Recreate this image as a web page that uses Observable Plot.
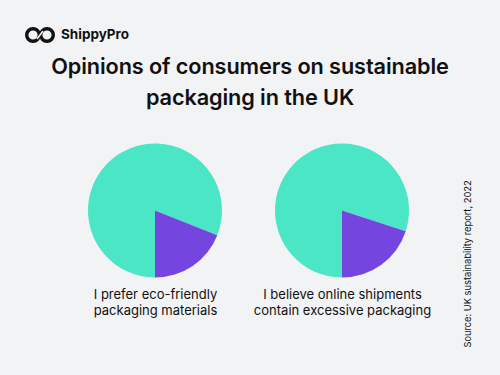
<!DOCTYPE html>
<html><head><meta charset="utf-8">
<script src="https://cdn.jsdelivr.net/npm/d3@7"></script>
<script src="https://cdn.jsdelivr.net/npm/@observablehq/plot@0.6"></script>
<style>
html,body{margin:0;padding:0;background:#F2F3F5;width:500px;height:375px;overflow:hidden;font-family:Inter,"Noto Sans",sans-serif;color:#111;}
#logo{position:absolute;left:24px;top:25px;}
#brand{position:absolute;left:61px;top:26px;font-size:13.5px;font-weight:700;}
#title{position:absolute;left:0;top:51px;width:500px;text-align:center;font-size:21.7px;font-weight:600;line-height:31px;letter-spacing:-0.1px;}
#chart{position:absolute;left:0;top:130px;}
#source{position:absolute;left:467px;top:264px;transform:translate(-50%,-50%) rotate(-90deg);white-space:nowrap;font-size:9.3px;color:#111;}
</style></head>
<body>
<svg id="logo" width="32" height="20" viewBox="0 0 32 20">
  <circle cx="9" cy="10" r="6.3" fill="none" stroke="#111" stroke-width="3.4"/>
  <circle cx="23" cy="10" r="6.3" fill="none" stroke="#111" stroke-width="3.4"/>
  <line x1="13" y1="14" x2="19" y2="6" stroke="#F2F3F5" stroke-width="1.6"/>
</svg>
<div id="brand">ShippyPro</div>
<div id="title">Opinions of consumers on sustainable<br>packaging in the UK</div>
<div id="chart"></div>
<div id="source">Source: UK sustainability report, 2022</div>
<script>
const questions = ["I prefer eco-friendly\npackaging materials", "I believe online shipments\ncontain excessive packaging"];
const agreeShare = [81, 80];
const otherShare = [19, 20];
const sliceNames = ["Agree", "Other"];
const sliceColors = ["#4BE6C6", "#7446DF"];

const rows = [];
questions.forEach((q, i) => {
  rows.push({question: q, slice: sliceNames[0], value: agreeShare[i]});
  rows.push({question: q, slice: sliceNames[1], value: otherShare[i]});
});

const radius = 67;
const pieY = 80.5;

function pies(index, scales, values, dimensions) {
  const g = d3.create("svg:g");
  for (const q of questions) {
    const data = rows.filter(d => d.question === q);
    const arcs = d3.pie().sort(null).value(d => d.value).startAngle(Math.PI).endAngle(3 * Math.PI)(data);
    const arc = d3.arc().innerRadius(0).outerRadius(radius);
    g.append("g")
      .attr("transform", `translate(${scales.x(q)},${pieY})`)
      .selectAll("path").data(arcs).join("path")
      .attr("d", arc)
      .attr("fill", d => scales.color(d.data.slice));
  }
  return g.node();
}

const chart = Plot.plot({
  width: 500,
  height: 200,
  margin: 0,
  style: {background: "transparent", fontFamily: "Inter, 'Noto Sans', sans-serif"},
  x: {type: "point", domain: questions, range: [154.5, 341.7], padding: 0, axis: null},
  y: {domain: [0, 200], range: [0, 200], axis: null},
  color: {domain: sliceNames, range: sliceColors},
  marks: [
    pies,
    Plot.text(questions, {x: d => d, y: () => 157, text: d => d, fontSize: 13, lineHeight: 1.22, fill: "#111", textAnchor: "middle", lineAnchor: "top"})
  ]
});
document.getElementById("chart").appendChild(chart);
</script>
</body></html>
